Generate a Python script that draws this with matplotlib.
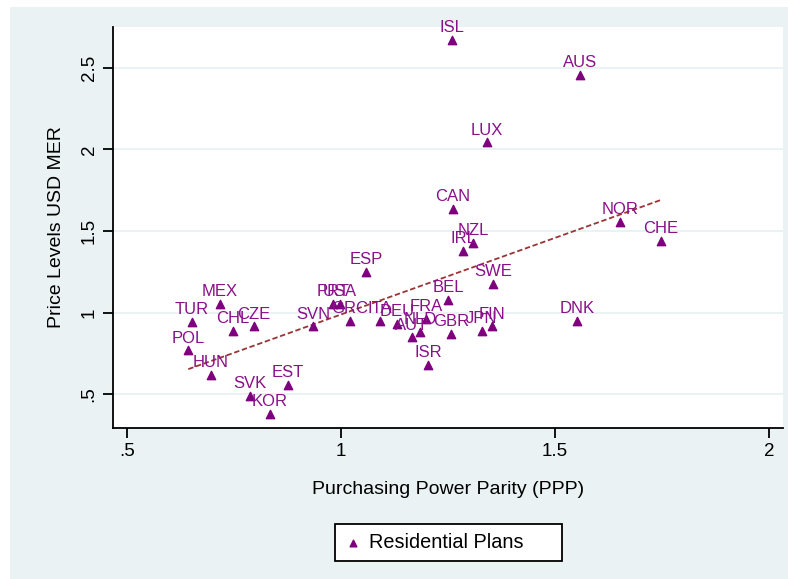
import numpy as np
import matplotlib
matplotlib.use("Agg")
import matplotlib.pyplot as plt
from matplotlib.patches import Rectangle

plt.rcParams['font.family'] = ['Liberation Sans', 'DejaVu Sans']

# OECD countries: purchasing power parity vs price levels (USD MER)
countries = ["ISL", "AUS", "LUX", "CAN", "NZL", "IRL", "NOR", "CHE", "ESP", "SWE",
             "BEL", "DNK", "MEX", "TUR", "CHL", "CZE", "POL", "HUN", "SVK", "EST",
             "KOR", "SVN", "PRT", "USA", "GRC", "ITA", "DEU", "AUT", "NLD", "FRA",
             "GBR", "JPN", "FIN", "ISR"]
ppp = [1.259, 1.558, 1.341, 1.262, 1.308, 1.285, 1.652, 1.748, 1.058, 1.355,
       1.250, 1.551, 0.717, 0.652, 0.748, 0.797, 0.643, 0.696, 0.787, 0.876,
       0.834, 0.935, 0.981, 0.998, 1.021, 1.091, 1.131, 1.166, 1.185, 1.199,
       1.257, 1.329, 1.353, 1.203]
price = [2.671, 2.457, 2.043, 1.634, 1.427, 1.378, 1.555, 1.439, 1.250, 1.177,
         1.079, 0.951, 1.055, 0.945, 0.890, 0.915, 0.768, 0.616, 0.488, 0.555,
         0.378, 0.915, 1.055, 1.055, 0.951, 0.951, 0.933, 0.848, 0.884, 0.963,
         0.872, 0.890, 0.915, 0.677]

xticks = [0.5, 1, 1.5, 2]
xticklabels = [".5", "1", "1.5", "2"]
yticks = [0.5, 1, 1.5, 2, 2.5]
yticklabels = [".5", "1", "1.5", "2", "2.5"]

purple = "#7E007E"
bg = "#EAF2F3"

fig = plt.figure(figsize=(7.88, 5.79), dpi=100)
fig.patch.set_facecolor("white")
fig.add_artist(Rectangle((10 / 788, 0), 1, 572 / 579, transform=fig.transFigure,
                         facecolor=bg, edgecolor="none", zorder=-10))

ax = fig.add_axes([113 / 788, 151 / 579, 670 / 788, 401 / 579])
ax.set_facecolor("white")

for t in yticks:
    ax.axhline(t, color=bg, linewidth=1.5, zorder=0)

ax.scatter(ppp, price, marker="^", s=36, color=purple, zorder=3, label="Residential Plans")
for name, x, y in zip(countries, ppp, price):
    ax.annotate(name, (x, y), xytext=(0, 3.5), textcoords="offset points",
                ha="center", va="bottom", fontsize=12, color="#8A108A", zorder=4)

# linear fit
slope, icpt = np.polyfit(ppp, price, 1)
xs = np.array([min(ppp), max(ppp)])
ax.plot(xs, icpt + slope * xs, color="#9B3535", linewidth=1.3,
        dashes=(3, 1.5), zorder=2)

ax.set_xlim(0.467, 2.033)
ax.set_ylim(0.293, 2.75)
ax.set_xticks(xticks)
ax.set_xticklabels(xticklabels, fontsize=13.5)
ax.set_yticks(yticks)
ax.set_yticklabels(yticklabels, fontsize=13.5, rotation=90, va="center")
ax.tick_params(length=7, width=1.3, pad=4)

for s in ["top", "right"]:
    ax.spines[s].set_visible(False)
for s in ["left", "bottom"]:
    ax.spines[s].set_linewidth(1.3)

ax.set_xlabel("Purchasing Power Parity (PPP)", fontsize=14, labelpad=15)
ax.set_ylabel("Price Levels USD MER", fontsize=14, labelpad=11)

leg = fig.legend(loc="center", bbox_to_anchor=(335 / 788, 17 / 579, 227 / 788, 39 / 579),
                 mode="expand", fontsize=14.3, frameon=True, fancybox=False,
                 edgecolor="black", facecolor="white", framealpha=1, borderpad=0.45,
                 handletextpad=0.35, markerscale=0.8, handlelength=0.9, borderaxespad=0)
leg.get_frame().set_linewidth(1.3)

fig.savefig("out.png", dpi=100)
